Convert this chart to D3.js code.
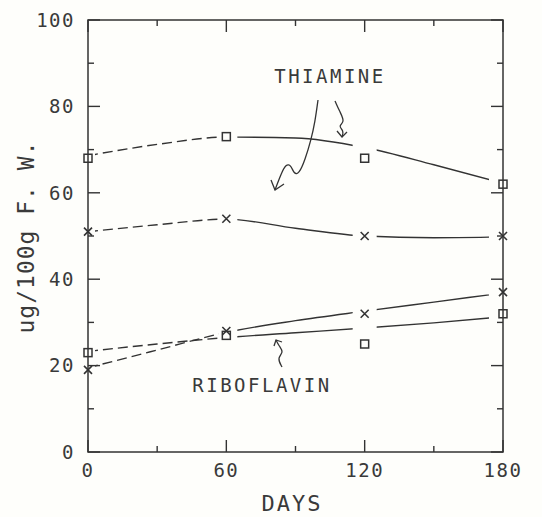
<!DOCTYPE html>
<html>
<head>
<meta charset="utf-8">
<script src="https://cdn.jsdelivr.net/npm/d3@7"></script>
<style>
  body { margin: 0; background: #fefefb; }
  text { font-family: "DejaVu Sans Mono", monospace; fill: #3a3a3a; }
</style>
</head>
<body>
<script>
 // measured values
 var days = [0, 60, 120, 180];
 var thiaSquare = [68, 73, 68, 62];
 var thiaCross = [51, 54, 50, 50];
 var riboSquare = [23, 27, 25, 32];
 var riboCross = [19, 28, 32, 37];

 // fitted curves
 var fitDays = [0, 30, 60, 90, 120, 150, 180];
 var thiaSquareFit = [68.6, 71.2, 72.9, 72.7, 70.5, 66.5, 62.2];
 var thiaCrossFit = [51.0, 52.6, 53.9, 51.8, 50.0, 49.6, 49.8];
 var riboSquareFit = [23.3, 25.0, 26.5, 27.6, 28.7, 29.9, 31.3];
 var riboCrossFit = [19.5, 23.6, 27.7, 30.4, 32.6, 34.7, 36.8];

 var xTicks = [0, 60, 120, 180];
 var yTicks = [0, 20, 40, 60, 80, 100];

 var w = 542;
 var h = 517;
 var pLeft = 88, pRight = 503, pTop = 20, pBottom = 452;
 var ink = "#333";

 var x = d3.scaleLinear().domain([0, 180]).range([pLeft, pRight]);
 var y = d3.scaleLinear().domain([0, 100]).range([pBottom, pTop]);

 var svg = d3.select("body")
         .append("svg")
         .attr("width", w)
         .attr("height", h);

 // clip regions: dashed for 0-60, solid for 60-180, with breaks at each day
 var defs = svg.append("defs");
 var dashClip = defs.append("clipPath").attr("id", "dashClip");
 dashClip.append("rect")
         .attr("x", x(0) + 7).attr("y", 0)
         .attr("width", x(60) - 8 - x(0) - 7).attr("height", h);
 var solidClip = defs.append("clipPath").attr("id", "solidClip");
 solidClip.append("rect")
         .attr("x", x(60) + 11).attr("y", 0)
         .attr("width", x(120) - 12 - x(60) - 11).attr("height", h);
 solidClip.append("rect")
         .attr("x", x(120) + 12).attr("y", 0)
         .attr("width", x(180) - 14 - x(120) - 12).attr("height", h);

 var line = d3.line()
         .x(function (d) { return x(d[0]); })
         .y(function (d) { return y(d[1]); })
         .curve(d3.curveMonotoneX);

 var fits = [thiaSquareFit, thiaCrossFit, riboSquareFit, riboCrossFit];
 fits.forEach(function (f) {
     var pts = fitDays.map(function (d, i) { return [d, f[i]]; });
     svg.append("path")
             .attr("d", line(pts))
             .attr("clip-path", "url(#dashClip)")
             .style("fill", "none")
             .style("stroke", ink)
             .style("stroke-width", 1.4)
             .style("stroke-dasharray", "10,5");
     svg.append("path")
             .attr("d", line(pts))
             .attr("clip-path", "url(#solidClip)")
             .style("fill", "none")
             .style("stroke", ink)
             .style("stroke-width", 1.4);
 });

 // markers
 function squares(vals) {
     svg.selectAll(null)
             .data(vals)
             .enter()
             .append("rect")
             .attr("x", function (d, i) { return x(days[i]) - 4; })
             .attr("y", function (d) { return y(d) - 4; })
             .attr("width", 8)
             .attr("height", 8)
             .style("fill", "none")
             .style("stroke", ink)
             .style("stroke-width", 1.5);
 }
 function crosses(vals) {
     svg.selectAll(null)
             .data(vals)
             .enter()
             .append("path")
             .attr("d", function (d, i) {
                 var cx = x(days[i]), cy = y(d), s = 4;
                 return "M" + (cx - s) + "," + (cy - s) + "L" + (cx + s) + "," + (cy + s) +
                        "M" + (cx - s) + "," + (cy + s) + "L" + (cx + s) + "," + (cy - s);
             })
             .style("stroke", ink)
             .style("stroke-width", 1.6);
 }
 squares(thiaSquare);
 crosses(thiaCross);
 squares(riboSquare);
 crosses(riboCross);

 // frame
 svg.append("rect")
         .attr("x", pLeft).attr("y", pTop)
         .attr("width", pRight - pLeft).attr("height", pBottom - pTop)
         .style("fill", "none")
         .style("stroke", ink)
         .style("stroke-width", 1.5);

 // inward ticks on all four sides
 var g = svg.append("g").style("stroke", ink).style("stroke-width", 1.4);
 d3.range(0, 101, 10).forEach(function (v) {
     var len = v % 20 === 0 ? 12 : 6;
     g.append("line").attr("x1", pLeft).attr("x2", pLeft + len).attr("y1", y(v)).attr("y2", y(v));
     g.append("line").attr("x1", pRight).attr("x2", pRight - len).attr("y1", y(v)).attr("y2", y(v));
 });
 d3.range(0, 181, 30).forEach(function (v) {
     var len = v % 60 === 0 ? 12 : 6;
     g.append("line").attr("x1", x(v)).attr("x2", x(v)).attr("y1", pBottom).attr("y2", pBottom - len);
     g.append("line").attr("x1", x(v)).attr("x2", x(v)).attr("y1", pTop).attr("y2", pTop + len);
 });

 // tick labels
 svg.selectAll(".ylab")
         .data(yTicks)
         .enter()
         .append("text")
         .attr("x", pLeft - 13)
         .attr("y", function (d) { return y(d); })
         .attr("dy", "0.36em")
         .attr("text-anchor", "end")
         .style("font-size", "19px")
         .style("letter-spacing", "1.5px")
         .text(function (d) { return d; });

 svg.selectAll(".xlab")
         .data(xTicks)
         .enter()
         .append("text")
         .attr("x", function (d) { return x(d); })
         .attr("y", 477)
         .attr("text-anchor", "middle")
         .style("font-size", "19px")
         .style("letter-spacing", "1.5px")
         .text(function (d) { return d; });

 svg.append("text")
         .attr("x", 292)
         .attr("y", 511)
         .attr("text-anchor", "middle")
         .style("font-size", "22px")
         .style("letter-spacing", "2px")
         .text("DAYS");

 svg.append("text")
         .attr("transform", "translate(34,237) rotate(-90)")
         .attr("text-anchor", "middle")
         .style("font-size", "23px")
         .style("letter-spacing", "1px")
         .text("ug/100g F. W.");

 // annotations
 svg.append("text")
         .attr("x", 330).attr("y", 83)
         .attr("text-anchor", "middle")
         .style("font-size", "19px")
         .style("letter-spacing", "2.5px")
         .text("THIAMINE");
 svg.append("text")
         .attr("x", 262).attr("y", 392)
         .attr("text-anchor", "middle")
         .style("font-size", "19px")
         .style("letter-spacing", "2.5px")
         .text("RIBOFLAVIN");

 // hand-drawn arrows, points in pixel space of the plot
 var arrowLine = d3.line().curve(d3.curveBasis);
 var arrows = [
     { path: [[318, 100], [315, 122], [311, 140], [305, 160], [299, 174], [294, 174], [291, 165], [286, 164], [281, 174], [275, 190]],
       head: [[271, 180], [275, 190], [284, 184]] },
     { path: [[335, 101], [340, 112], [345, 122], [338, 126], [344, 131], [342, 137]],
       head: [[337, 131], [342, 137], [347, 132]] },
     { path: [[282, 367], [277, 358], [284, 352], [279, 346], [276, 340]],
       head: [[274, 346], [276, 340], [282, 342]] }
 ];
 arrows.forEach(function (a) {
     svg.append("path")
             .attr("d", arrowLine(a.path))
             .style("fill", "none")
             .style("stroke", ink)
             .style("stroke-width", 1.3);
     svg.append("path")
             .attr("d", d3.line()(a.head))
             .style("fill", "none")
             .style("stroke", ink)
             .style("stroke-width", 1.3);
 });
</script>
</body>
</html>
